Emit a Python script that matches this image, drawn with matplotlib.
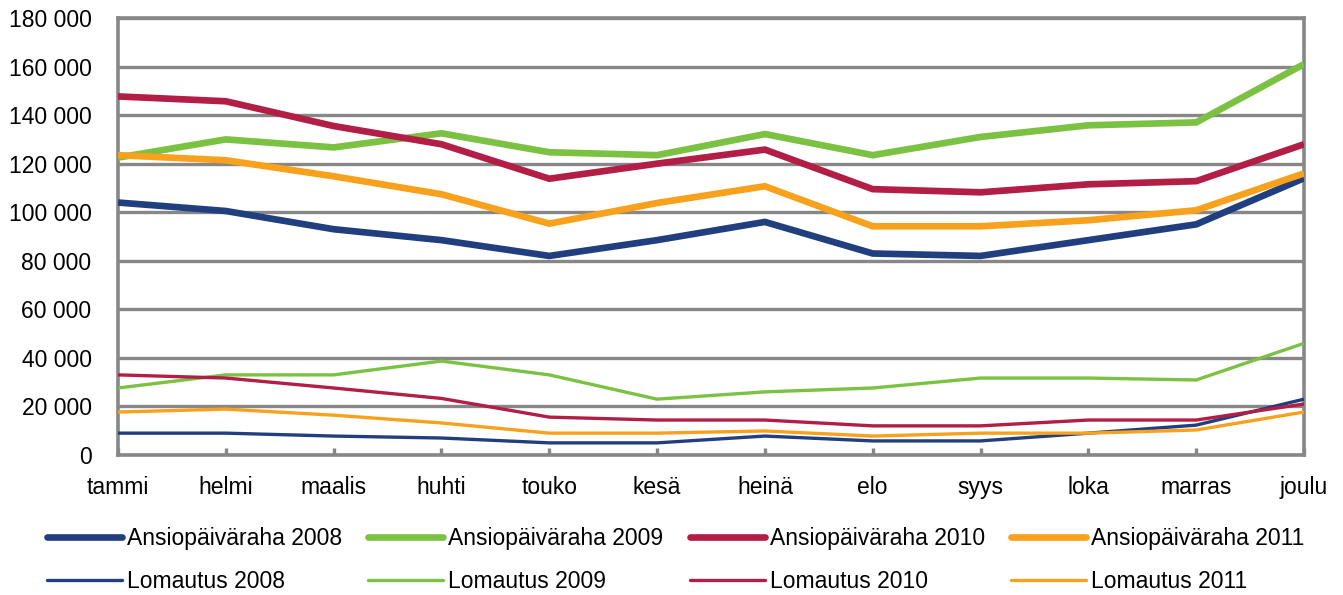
import matplotlib
matplotlib.use("Agg")
import matplotlib.pyplot as plt

plt.rcParams['font.family'] = ['Liberation Sans', 'DejaVu Sans']

# kuukaudet
months = ['tammi', 'helmi', 'maalis', 'huhti', 'touko', 'kesä',
          'heinä', 'elo', 'syys', 'loka', 'marras', 'joulu']

# ansiopäiväraha (paksut viivat)
ansio_2008 = [104000, 100500, 93000, 88500, 82000, 88500, 96000, 83000, 82000, 88500, 95000, 114000]
ansio_2009 = [122500, 130000, 126700, 132500, 124700, 123500, 132200, 123500, 131000, 135800, 137000, 161000]
ansio_2010 = [147700, 145700, 135500, 128000, 113800, 120000, 125800, 109500, 108200, 111500, 112800, 128000]
ansio_2011 = [123500, 121400, 114800, 107400, 95300, 103800, 110700, 94200, 94200, 96700, 100800, 116000]

# lomautus (ohuet viivat)
loma_2008 = [9000, 9000, 7800, 7000, 5000, 5000, 7800, 5800, 5800, 9000, 12300, 23000]
loma_2009 = [27600, 33000, 33000, 38700, 33000, 23000, 26000, 27600, 31700, 31700, 30900, 46000]
loma_2010 = [33000, 31700, 27600, 23300, 15600, 14400, 14400, 12000, 12000, 14400, 14400, 21000]
loma_2011 = [17700, 18900, 16400, 13200, 9000, 9000, 9900, 7800, 9000, 9000, 10300, 17700]

years = ['2008', '2009', '2010', '2011']
colors = ['#213F7F', '#7BC142', '#B21E45', '#F8A11D']
ansio = [ansio_2008, ansio_2009, ansio_2010, ansio_2011]
loma = [loma_2008, loma_2009, loma_2010, loma_2011]

fig = plt.figure(figsize=(13.43, 5.95), dpi=100)
ax = fig.add_axes([118 / 1343, 1 - 455 / 595, (1304 - 118) / 1343, (455 - 18) / 595])

x = range(len(months))
handles = []
labels = []
for yr, c, a, l in zip(years, colors, ansio, loma):
    ha, = ax.plot(x, a, color=c, lw=4.8, solid_capstyle='butt', solid_joinstyle='miter', zorder=3)
    hl, = ax.plot(x, l, color=c, lw=2.4, solid_capstyle='butt', solid_joinstyle='miter', zorder=3)
    handles += [ha, hl]
    labels += ['Ansiopäiväraha ' + yr, 'Lomautus ' + yr]

ax.set_xlim(0, len(months) - 1)
ax.set_ylim(0, 180000)
ax.set_yticks(range(0, 180001, 20000))
ax.set_yticklabels([f'{v:,}'.replace(',', ' ') for v in range(0, 180001, 20000)])
ax.set_xticks(list(x))
ax.set_xticklabels(months)

grey = '#878787'
ax.grid(axis='y', color=grey, lw=2.4, zorder=1)
for s in ax.spines.values():
    s.set_color(grey)
    s.set_linewidth(2.6)
ax.tick_params(axis='y', length=0, labelsize=16.5, pad=19)
ax.tick_params(axis='x', direction='in', length=5, width=2.4, color=grey, labelsize=16.5, pad=15)

# legenda: ylärivi ansiopäiväraha, alarivi lomautus
leg = fig.legend(handles, labels, ncol=4, loc='center left', bbox_to_anchor=(47 / 1343, 1 - 560 / 595),
                 frameon=False, fontsize=16.5, handlelength=3.27, handletextpad=0.22,
                 columnspacing=1.15, labelspacing=0.85, borderpad=0, borderaxespad=0)
for h in leg.get_lines():
    h.set_solid_capstyle('round')

fig.savefig('out.png', dpi=100)
